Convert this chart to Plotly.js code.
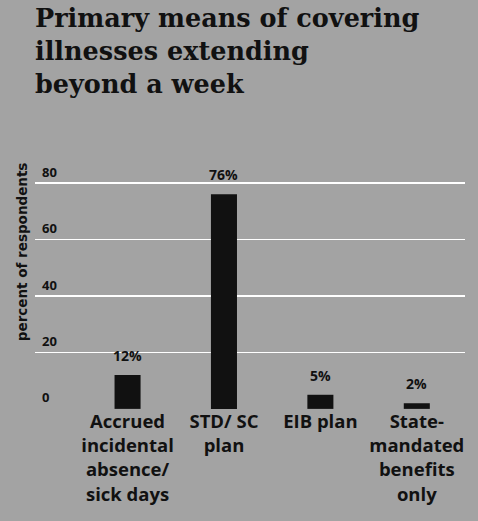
<!DOCTYPE html>
<html>
<head>
<meta charset="utf-8">
<script src="https://cdn.plot.ly/plotly-3.0.1.min.js"></script>
<style>
  html, body { margin: 0; padding: 0; background: #a3a3a3; }
  #chart { width: 478px; height: 521px; }
</style>
</head>
<body>
<div id="chart"></div>
<script>
const categories = [
  "Accrued<br>incidental<br>absence/<br>sick days",
  "STD/ SC<br>plan",
  "EIB plan",
  "State-<br>mandated<br>benefits<br>only"
];
const values = [12, 76, 5, 2];
const valueLabels = ["12%", "76%", "5%", "2%"];
const yTickVals = [0, 20, 40, 60, 80];
const yTickText = ["0", "20", "40", "60", "80"];
const yGridVals = [20, 40, 60, 80];
const titleText = "Primary means of covering<br>illnesses extending<br>beyond a week";
const yTitleText = "percent of respondents";

const bg = "#a3a3a3";
const sans = "Open Sans, sans-serif";

const trace = {
  type: "bar",
  x: categories.map((c, i) => i),
  y: values,
  width: 0.27,
  marker: { color: "#111111" },
  hoverinfo: "skip"
};

const barAnnotations = values.map((v, i) => ({
  x: i, y: v, xref: "x", yref: "y",
  text: valueLabels[i],
  showarrow: false,
  yanchor: "bottom",
  yshift: 8,
  font: { family: sans, size: 14, color: "#111", weight: 700 }
}));

const layout = {
  width: 478,
  height: 521,
  paper_bgcolor: bg,
  plot_bgcolor: bg,
  margin: { l: 35, r: 13, t: 169, b: 97.9 },
  showlegend: false,
  title: {
    text: titleText,
    xref: "container", yref: "container",
    x: 35 / 478, xanchor: "left",
    y: 1 - 27 / 521, yanchor: "top",
    font: { family: "DejaVu Serif, serif", size: 25.5, color: "#111", weight: 700 }
  },
  xaxis: {
    range: [-0.96, 3.5],
    anchor: "free",
    position: 0.05558,
    tickmode: "array",
    tickvals: categories.map((c, i) => i),
    ticktext: categories,
    showgrid: false,
    zeroline: false,
    showline: false,
    ticks: "",
    tickfont: { family: sans, size: 18.5, color: "#111", weight: 700 }
  },
  yaxis: {
    range: [-5, 84.96],
    tickmode: "array",
    tickvals: yTickVals,
    ticktext: yTickText,
    showgrid: false,
    minor: {
      tickmode: "array",
      tickvals: yGridVals,
      showgrid: true,
      gridcolor: "#ffffff",
      gridwidth: 1.5,
      ticks: ""
    },
    zeroline: false,
    showline: false,
    ticks: "",
    ticklabelposition: "inside",
    ticklabeloverflow: "allow",
    ticklabelshift: -11,
    ticklabelstandoff: 4,
    tickfont: { family: sans, size: 13, color: "#111", weight: 700 }
  },
  annotations: barAnnotations.concat([{
    xref: "paper", yref: "paper",
    x: -0.03, xanchor: "center",
    y: 0.673, yanchor: "middle",
    text: yTitleText,
    textangle: -90,
    showarrow: false,
    font: { family: "DejaVu Sans, sans-serif", size: 13.5, color: "#111", weight: 700 }
  }])
};

Plotly.newPlot("chart", [trace], layout, { displayModeBar: false, staticPlot: true });
</script>
</body>
</html>
